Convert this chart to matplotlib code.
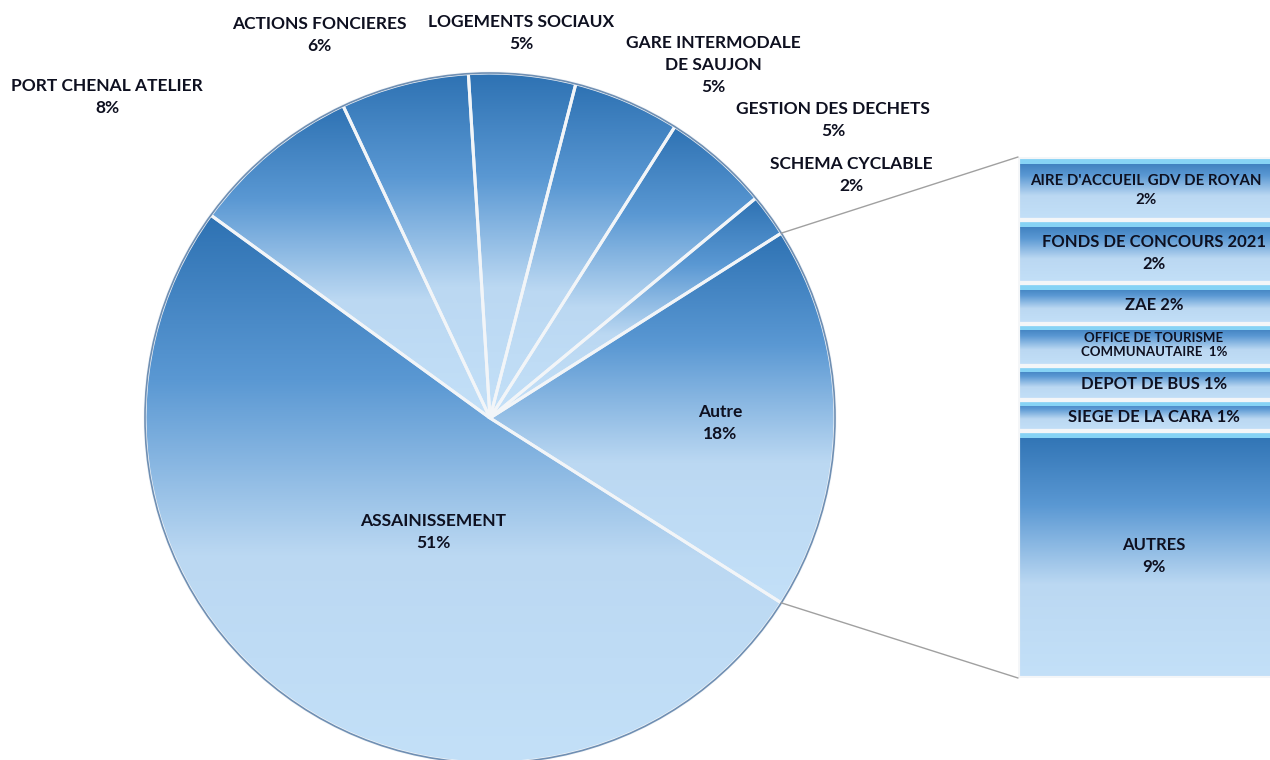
import numpy as np
import matplotlib.pyplot as plt
from matplotlib.colors import LinearSegmentedColormap
from matplotlib.patches import ConnectionPatch, Rectangle

# main pie (clockwise from the ASSAINISSEMENT / PORT boundary)
pie_labels = ['PORT CHENAL ATELIER', 'ACTIONS FONCIERES', 'LOGEMENTS SOCIAUX',
              'GARE INTERMODALE\nDE SAUJON', 'GESTION DES DECHETS', 'SCHEMA CYCLABLE',
              'Autre', 'ASSAINISSEMENT']
pie_values = [8, 6, 5, 5, 5, 2, 18, 51]

# breakdown of "Autre" (top to bottom)
bar_labels = ["AIRE D'ACCUEIL GDV DE ROYAN\n2%", 'FONDS DE CONCOURS 2021\n2%', 'ZAE 2%',
              'OFFICE DE TOURISME\nCOMMUNAUTAIRE  1%', 'DEPOT DE BUS 1%',
              'SIEGE DE LA CARA 1%', 'AUTRES\n9%']
bar_values = [2.18, 2.18, 1.38, 1.45, 1.17, 1.10, 8.5]

W, H = 1270, 760
font = 'Lato'
txt_color = '#0e1020'

cmap = LinearSegmentedColormap.from_list(
    'xl', [(0, '#2e72b3'), (0.3, '#5a98d3'), (0.62, '#bbd8f2'), (1, '#c3e0f8')])
grad = np.linspace(0, 1, 256).reshape(-1, 1)

fig = plt.figure(figsize=(12.7, 7.6), dpi=100)
ax = fig.add_axes([0, 0, 1, 1])
ax.set_axis_off()

cx, cy, r = 490, H - 418, 345
wedges, _ = ax.pie(pie_values, startangle=144, counterclock=False,
                   center=(cx, cy), radius=r,
                   wedgeprops=dict(edgecolor='#f2f5f8', linewidth=2.2))

for w in wedges:
    w.set_facecolor('none')
    ext = w.get_path().get_extents()
    im = ax.imshow(grad, cmap=cmap, extent=(ext.x0, ext.x1, ext.y0, ext.y1),
                   origin='upper', aspect='auto', zorder=0.5)
    im.set_clip_path(w)

circ = plt.Circle((cx, cy), r, fill=False, edgecolor='#6f8fb3', linewidth=1.2, zorder=3)
ax.add_patch(circ)

ax.set_xlim(0, W)
ax.set_ylim(0, H)

# pie labels (pixel positions from the reference)
label_pos = [(107, 97), (319, 35), (521, 33), (713, 65), (833, 120), (851, 175),
             (720, 423), (433, 532)]
for lab, v, (x, y) in zip(pie_labels, pie_values, label_pos):
    ax.text(x, H - y, f'{lab}\n{v}%', ha='center', va='center', fontsize=12.5,
            fontweight='bold', family=font, color=txt_color, linespacing=1.5)

# stacked bar for the "Autre" breakdown
bx0, by_top, by_bot, bw = 1018, 157, 678, 272
axb = fig.add_axes([bx0 / W, 1 - by_bot / H, bw / W, (by_bot - by_top) / H])
axb.set_axis_off()
bottoms = np.concatenate([[0], np.cumsum(bar_values)[:-1]])
bars = axb.bar(0, bar_values, bottom=bottoms, width=1, color='none',
               edgecolor='#f4f6f8', linewidth=3)
total = sum(bar_values)
px_unit = total / (by_bot - by_top)
for i, (b, lab) in enumerate(zip(bars, bar_labels)):
    x0, y0 = b.get_x(), b.get_y()
    h = b.get_height()
    im = axb.imshow(grad, cmap=cmap, extent=(x0, x0 + 1, y0 + h, y0),
                    origin='upper', aspect='auto', zorder=0.5)
    im.set_clip_path(b)
    axb.add_patch(Rectangle((x0, y0 + 1.5 * px_unit), 1, 5 * px_unit, color='#86d3f5',
                            zorder=0.6, linewidth=0))
    small = 'OFFICE' in lab
    fs = 9.5 if small else (10.8 if i == 0 else 12)
    axb.text(-0.03 if i == 0 else 0.0, y0 + h / 2 + (0.6 if small else 1.5) * px_unit, lab,
             ha='center', va='center', fontsize=fs,
             fontweight='bold', family=font, color=txt_color,
             linespacing=1.2 if small else 1.45, clip_on=False)
axb.set_xlim(-0.5, 0.5)
axb.set_ylim(total, 0)

# connector lines from the "Autre" slice to the bar
autre = wedges[pie_labels.index('Autre')]
for ang, yb in [(autre.theta2, 0), (autre.theta1, total)]:
    a = np.deg2rad(ang)
    p = (cx + r * np.cos(a), cy + r * np.sin(a))
    con = ConnectionPatch(xyA=p, coordsA=ax.transData, xyB=(-0.5, yb),
                          coordsB=axb.transData, color='#a0a0a0', linewidth=1)
    fig.add_artist(con)

fig.savefig('out.png', dpi=100)
